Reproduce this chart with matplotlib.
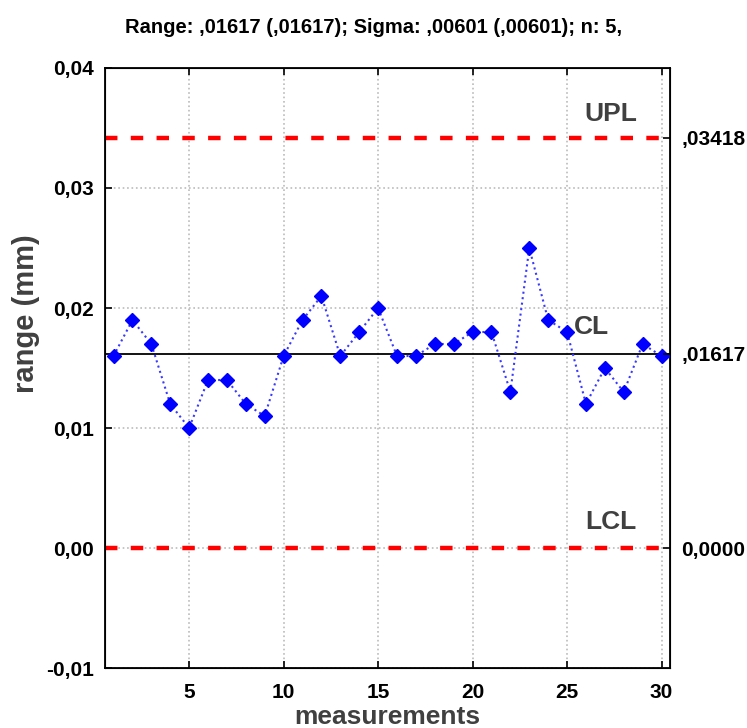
import matplotlib.pyplot as plt
from matplotlib import font_manager

names = {f.name for f in font_manager.fontManager.ttflist}
narrow = 'Liberation Sans Narrow' if 'Liberation Sans Narrow' in names else 'Liberation Sans'
plt.rcParams['font.family'] = [narrow, 'DejaVu Sans']

# data
measurements = list(range(1, 31))
ranges = [0.016, 0.019, 0.017, 0.012, 0.010, 0.014, 0.014, 0.012, 0.011, 0.016,
          0.019, 0.021, 0.016, 0.018, 0.020, 0.016, 0.016, 0.017, 0.017, 0.018,
          0.018, 0.013, 0.025, 0.019, 0.018, 0.012, 0.015, 0.013, 0.017, 0.016]
upl = 0.03418
cl = 0.01617
lcl = 0.0
limit_labels = [',03418', ',01617', '0,0000']
y_ticks = [-0.01, 0.0, 0.01, 0.02, 0.03, 0.04]
x_ticks = [5, 10, 15, 20, 25, 30]

fig = plt.figure(figsize=(7.47, 7.28), dpi=100)
ax = fig.add_axes([0.1406, 0.0824, 0.7564, 0.8242])

ax.axhline(upl, color='#ff0000', lw=3.2, ls=(0, (2.8, 3.0)), zorder=2)
ax.axhline(lcl, color='#ff0000', lw=3.2, ls=(0, (2.8, 3.0)), zorder=2)
ax.axhline(cl, color='black', lw=1.3, zorder=2)

ax.plot(measurements, ranges, color='#3a3aff', ls=':', lw=1.5, zorder=3)
ax.plot(measurements, ranges, 'D', color='#0000ff', ms=7, zorder=4)

ax.set_xlim(0.55, 30.45)
ax.set_ylim(-0.01, 0.04)
ax.set_xticks(x_ticks)
ax.set_yticks(y_ticks)
ax.set_yticklabels([f'{v:.2f}'.replace('.', ',') for v in y_ticks])
ax.grid(True, color='#bbbbbb', ls=':', lw=1.2)
ax.set_axisbelow(True)
ax.tick_params(direction='in', length=5, width=1.2, top=True, labelsize=15, pad=8)
for lab in ax.get_xticklabels() + ax.get_yticklabels():
    lab.set_fontweight('bold')
ax.tick_params(axis='x', pad=11)
for s in ax.spines.values():
    s.set_linewidth(1.3)

ax2 = ax.twinx()
ax2.set_ylim(ax.get_ylim())
ax2.set_yticks([upl, cl, lcl])
ax2.set_yticklabels(limit_labels, fontweight='bold')
ax2.tick_params(direction='in', length=5, width=1.2, labelsize=15, pad=8)

ax.text(27.3, 0.0362, 'UPL', color='#404040', fontsize=19, fontweight='bold',
        ha='center', va='center')
ax.text(26.3, 0.0184, 'CL', color='#404040', fontsize=19, fontweight='bold',
        ha='center', va='center')
ax.text(27.3, 0.0022, 'LCL', color='#404040', fontsize=19, fontweight='bold',
        ha='center', va='center')

ax.set_xlabel('measurements', fontsize=19, fontweight='bold', color='#404040')
ax.xaxis.set_label_coords(0.5, -0.061)
ax.set_ylabel('range (mm)', fontsize=21, fontweight='bold', color='#404040')
ax.yaxis.set_label_coords(-0.115, 0.59)

fig.suptitle('Range: ,01617 (,01617); Sigma: ,00601 (,00601); n: 5,',
             fontsize=14.5, fontweight='bold', y=0.975)

fig.savefig('out.png', dpi=100)
